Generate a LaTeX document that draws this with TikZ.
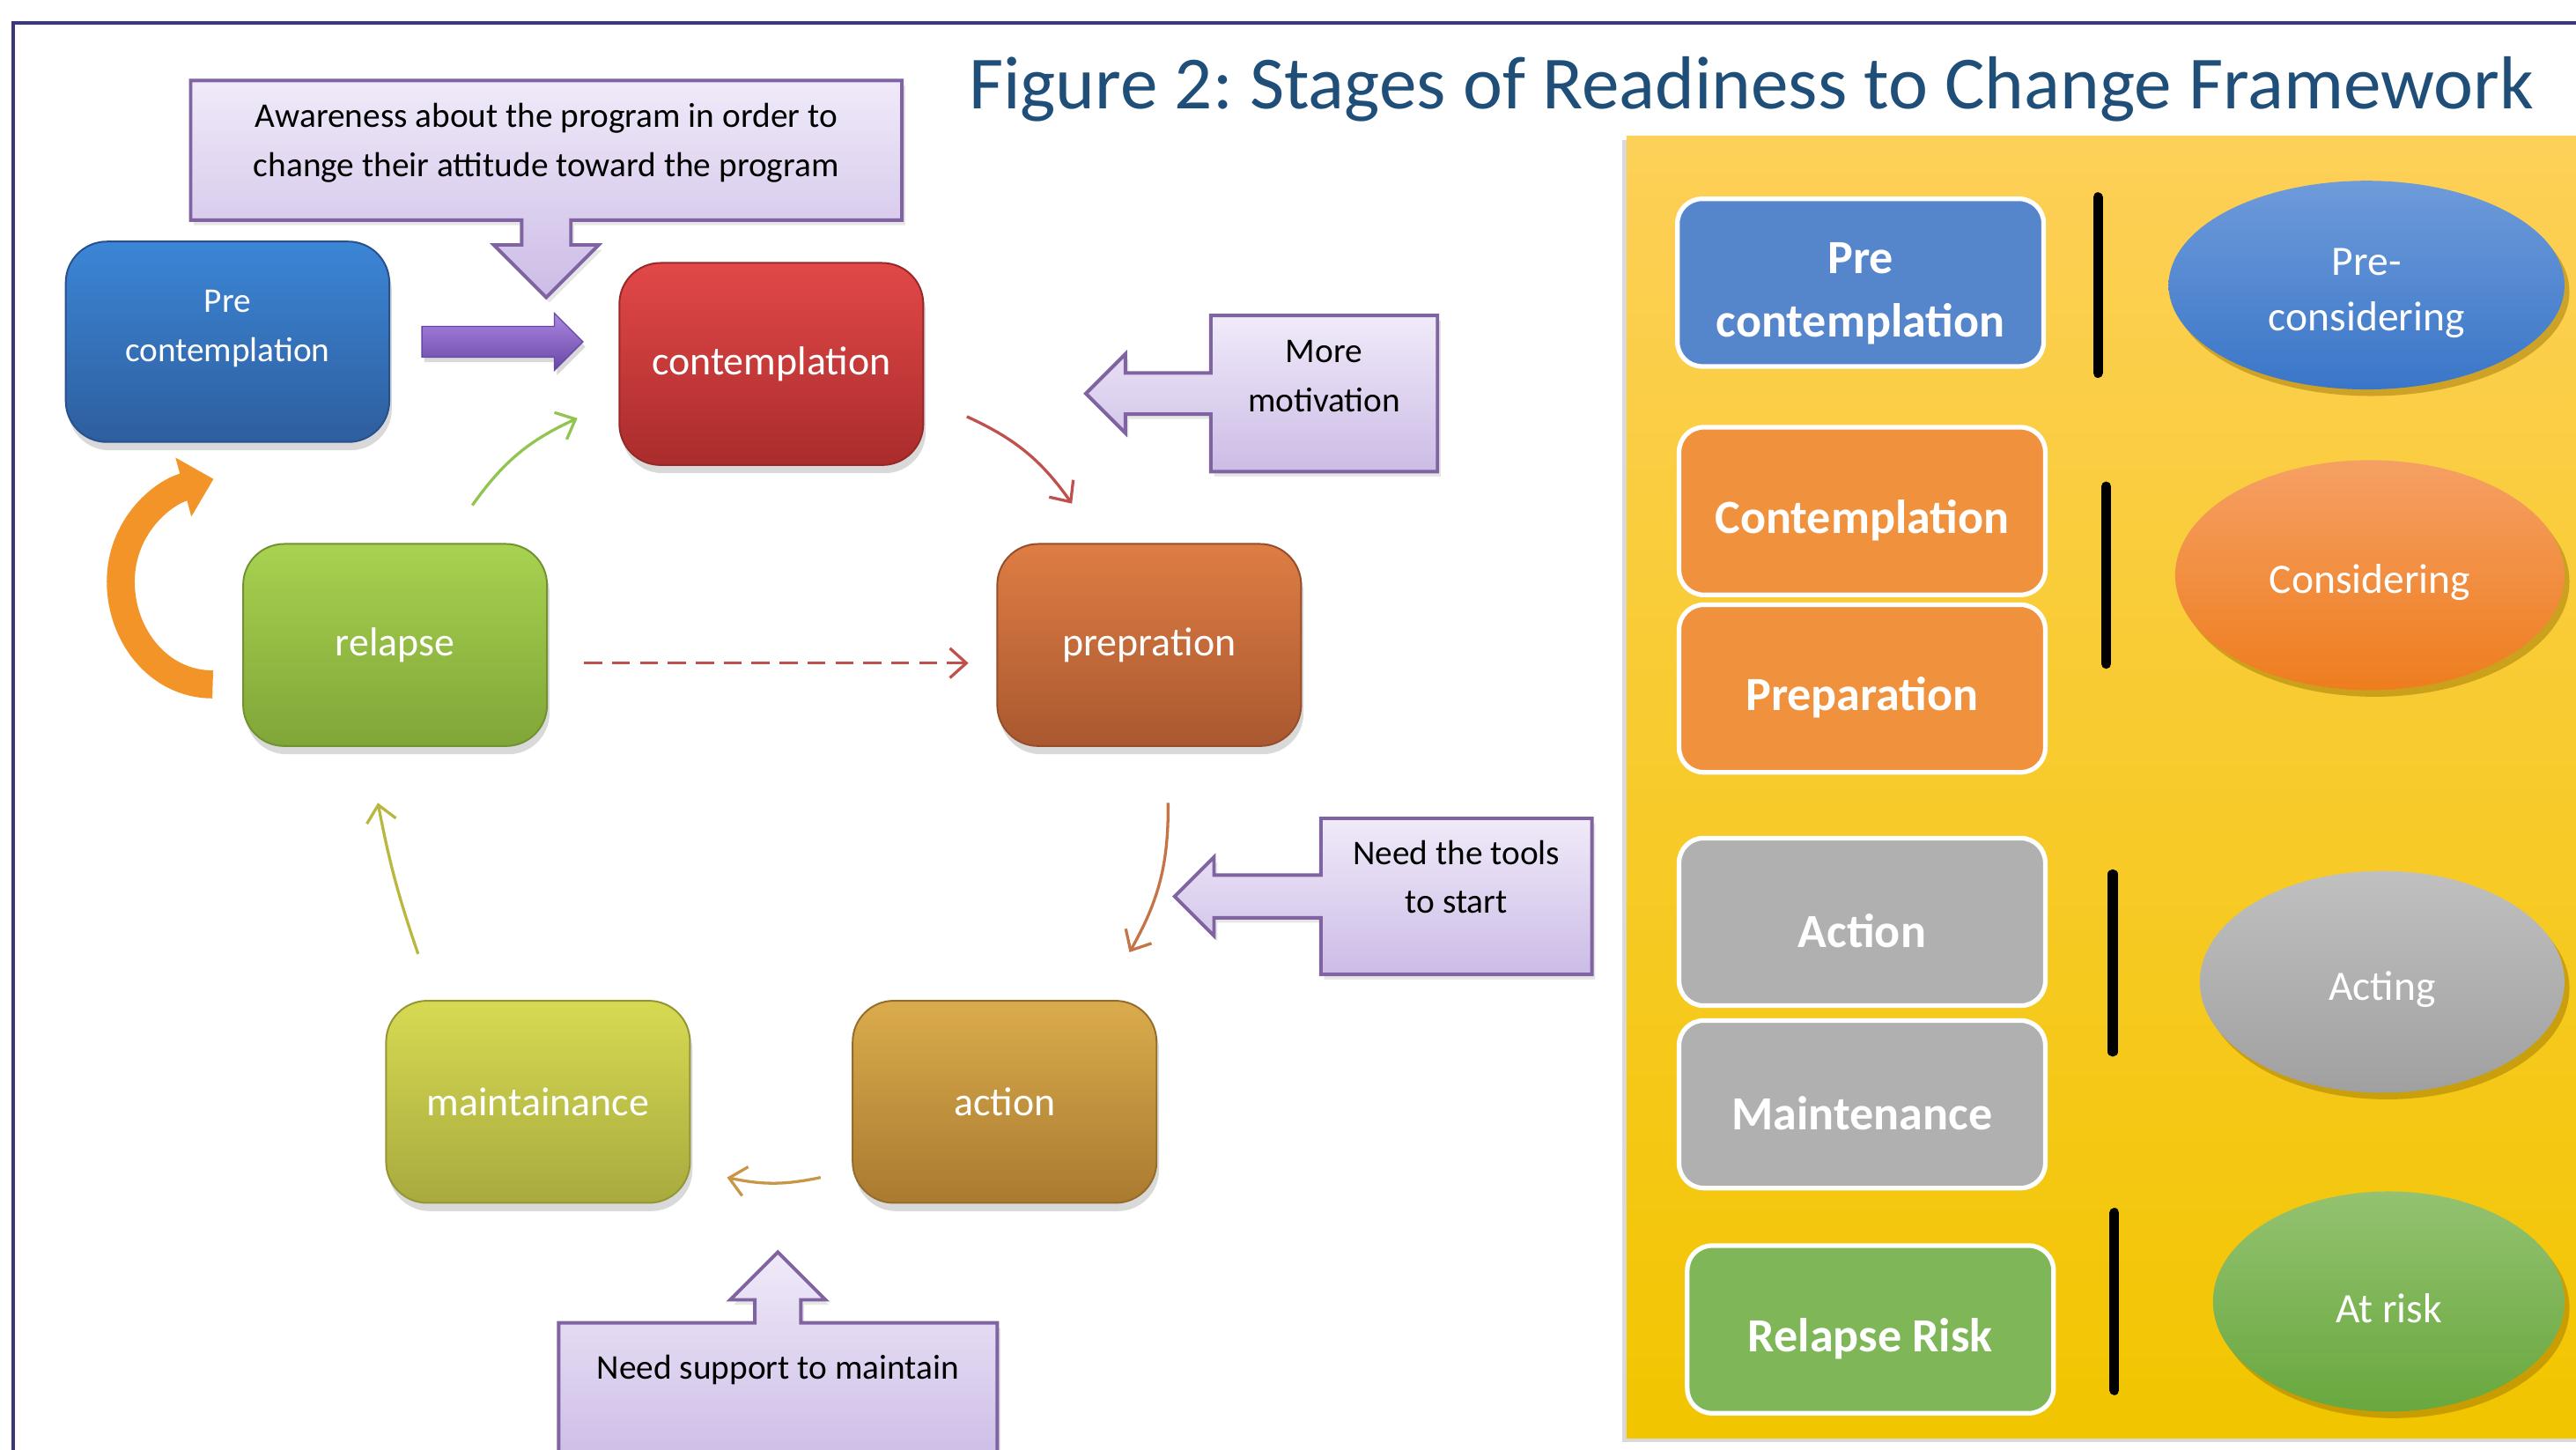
\documentclass[tikz,border=0pt]{standalone}
\usepackage{fontspec}
\setmainfont{Carlito}
\usepackage{tikz}
\usetikzlibrary{shapes.geometric,shapes.arrows,arrows.meta,shadows}
\usetikzlibrary{positioning,calc}

\begin{document}
\begin{tikzpicture}[x=0.02cm,y=0.02cm,
    stage/.style={rounded corners=0.5cm, minimum width=3.7cm, minimum height=2.46cm,
      line width=0.6pt, text=white, align=center, font=\fontsize{14}{17}\selectfont,
      drop shadow={shadow xshift=0.03cm, shadow yshift=-0.1cm, opacity=0.3}},
    hint/.style={arrow box, draw=hintline, line width=1.2pt, top color=hinttop, bottom color=hintbottom,
      align=center, font=\fontsize{12}{17}\selectfont,
      arrow box head indent=0pt, arrow box tip angle=90,
      drop shadow={shadow xshift=0.04cm, shadow yshift=-0.06cm, opacity=0.2}},
    phase/.style={rounded corners=0.3cm, draw=white, line width=1.6pt,
      minimum width=4.46cm, minimum height=2.04cm,
      text=white, align=center, font=\bfseries\fontsize{16.5}{22}\selectfont},
    mood/.style={ellipse, inner sep=0pt, text=white, align=center,
      font=\fontsize{14.5}{19}\selectfont,
      drop shadow={shadow xshift=0.06cm, shadow yshift=-0.08cm, opacity=0.45, fill=moodshadow}},
    flow/.style={line width=1pt, -{Straight Barb[length=0.2cm,width=0.36cm]}},
    sepbar/.style={line width=0.12cm, line cap=round}]

  \definecolor{framecol}{RGB}{58,56,122}
  \definecolor{titleblue}{RGB}{31,78,121}
  \definecolor{hintline}{RGB}{128,100,162}
  \definecolor{hinttop}{RGB}{240,234,249}
  \definecolor{hintbottom}{RGB}{204,188,230}
  \definecolor{pushtop}{RGB}{170,134,224}
  \definecolor{pushbottom}{RGB}{104,72,166}
  \definecolor{redline}{RGB}{192,80,77}
  \definecolor{brownline}{RGB}{196,116,70}
  \definecolor{tanline}{RGB}{200,150,70}
  \definecolor{oliveline}{RGB}{184,184,64}
  \definecolor{greenline}{RGB}{146,196,80}
  \definecolor{orangeturn}{RGB}{242,148,40}
  \definecolor{moodshadow}{RGB}{150,110,0}
  \def\lowered{\mbox{}\\[-4pt]}

  \useasboundingbox (0,0) rectangle (1568,882);

  % frame and title
  \draw[framecol, line width=1.2pt] (8,-10) -- (8,868) -- (1580,868);
  \node[anchor=base, text=titleblue, font=\fontsize{26}{30}\selectfont] (title) at (1066,816)
    {Figure 2:\ Stages of Readiness to Change Framework};

  % cycle of stages
  \node[stage, top color={rgb,255:red,60;green,134;blue,214}, bottom color={rgb,255:red,46;green,94;blue,158},
    draw={rgb,255:red,40;green,80;blue,140}, minimum width=3.94cm, minimum height=2.44cm,
    font=\fontsize{12}{17}\selectfont] (pre) at (138.5,674) {Pre\\contemplation\\[-6pt]\mbox{}};
  \node[stage, top color={rgb,255:red,226;green,72;blue,72}, bottom color={rgb,255:red,170;green,44;blue,44},
    draw={rgb,255:red,150;green,40;blue,40}] (contemp) at (469.5,660.5) {contemplation};
  \node[stage, top color={rgb,255:red,222;green,125;blue,68}, bottom color={rgb,255:red,170;green,88;blue,48},
    draw={rgb,255:red,150;green,78;blue,42}] (prep) at (699.5,489.5) {prepration};
  \node[stage, top color={rgb,255:red,218;green,172;blue,76}, bottom color={rgb,255:red,170;green,122;blue,48},
    draw={rgb,255:red,150;green,108;blue,42}] (action) at (611.5,211.5) {action};
  \node[stage, top color={rgb,255:red,214;green,218;blue,82}, bottom color={rgb,255:red,168;green,170;blue,62},
    draw={rgb,255:red,148;green,150;blue,54}] (maint) at (327.5,211.5) {maintainance};
  \node[stage, top color={rgb,255:red,168;green,210;blue,80}, bottom color={rgb,255:red,128;green,166;blue,56},
    draw={rgb,255:red,112;green,146;blue,48}] (relapse) at (240.5,489.5) {relapse};

  % block arrow
  \node[single arrow, top color=pushtop, bottom color=pushbottom, draw=pushbottom, line width=0.4pt,
    minimum height=1.96cm, single arrow head extend=0.16cm, inner xsep=0pt, inner ysep=0.18cm,
    anchor=tail, drop shadow={shadow xshift=0.03cm, shadow yshift=-0.06cm, opacity=0.3}]
    (push) at ([xshift=0.38cm]pre.east) {};

  % callouts
  \node[hint, minimum width=8.66cm, minimum height=1.7cm,
    arrow box arrows={south:0.92cm}, arrow box shaft width=0.6cm, arrow box head extend=0.34cm]
    (aware) at (332.5,790.5) {Awareness about the program in order to\\change their attitude toward the program\\[-10pt]\mbox{}};
  \node[hint, minimum width=2.76cm, minimum height=1.9cm,
    arrow box arrows={west:1.5cm}, arrow box shaft width=0.5cm, arrow box head extend=0.23cm]
    (motiv) at (806,642.5) {More\\motivation\\[-5pt]\mbox{}};
  \node[hint, minimum width=3.3cm, minimum height=1.9cm,
    arrow box arrows={west:1.76cm}, arrow box shaft width=0.52cm, arrow box head extend=0.22cm]
    (tools) at (886.5,336.5) {Need the tools\\to start\\[-3.5pt]\mbox{}};
  \node[hint, minimum width=5.34cm, text height=0.33cm, text depth=0.71cm, inner ysep=0.35cm,
    arrow box arrows={north:0.84cm}, arrow box shaft width=0.56cm, arrow box head extend=0.3cm]
    (support) at (473.5,33.5) {Need support to maintain};

  % connectors
  \draw[flow, redline] ([shift={(26,30)}]contemp.south east) to[bend left=15] ([shift={(46,24)}]prep.north west);
  \draw[flow, brownline] ([shift={(11.5,-34)}]prep.south) to[bend left=15] ([shift={(-17,29)}]action.north east);
  \draw[flow, tanline] ([shift={(-19,16)}]action.south west) to[bend left=12] ([shift={(22,16)}]maint.south east);
  \draw[flow, oliveline] ([shift={(20,28)}]maint.north west) to[bend left=4] ([shift={(-10.5,-34)}]relapse.south);
  \draw[flow, greenline] ([shift={(-46,23)}]relapse.north east) to[bend left=15] ([shift={(-25,29)}]contemp.south west);
  \draw[flow, redline, dash pattern=on 0.22cm off 0.12cm] ([shift={(22,-11)}]relapse.east) -- ([shift={(-17,-11)}]prep.west);
  \draw[orangeturn, line width=0.34cm, -{Triangle[length=0.38cm,width=0.72cm]}]
    ([shift={(-18,-24)}]relapse.west) to[out=180,in=-90] ([shift={(-74,38.5)}]relapse.west)
    to[out=90,in=-165] ([shift={(-8.5,-22)}]pre.south);

  % readiness panel
  \path[top color={rgb,255:red,253;green,208;blue,88}, bottom color={rgb,255:red,242;green,197;blue,0},
    drop shadow={shadow xshift=-0.05cm, shadow yshift=-0.05cm, opacity=0.3}] (990,7) rectangle (1620,799);

  \node[phase, fill={rgb,255:red,85;green,134;blue,204}] (rPre) at (1132.5,710) {\lowered Pre\\contemplation};
  \node[phase, fill={rgb,255:red,240;green,145;blue,62}] (rCon) at (1133.5,571) {\lowered Contemplation};
  \node[phase, fill={rgb,255:red,240;green,145;blue,62}] (rPrep) at (1133.5,463) {\lowered Preparation};
  \node[phase, fill={rgb,255:red,176;green,176;blue,176}] (rAct) at (1133.5,321) {\lowered Action};
  \node[phase, fill={rgb,255:red,176;green,176;blue,176}] (rMain) at (1133.5,210) {\lowered Maintenance};
  \node[phase, fill={rgb,255:red,126;green,182;blue,88}] (rRel) at (1138.5,73) {\lowered Relapse Risk};

  \draw[sepbar] (1277,762) -- (1277,655);
  \draw[sepbar] (1282,586) -- (1282,478);
  \draw[sepbar] (1286,350) -- (1286,242);
  \draw[sepbar] (1287,144) -- (1287,36);

  \node[mood, minimum width=4.82cm, minimum height=2.54cm,
    top color={rgb,255:red,110;green,155;blue,218}, bottom color={rgb,255:red,58;green,118;blue,200}]
    (ePre) at (1440.5,708.5) {\lowered Pre-\\considering};
  \node[mood, minimum width=4.74cm, minimum height=2.8cm,
    top color={rgb,255:red,245;green,160;blue,100}, bottom color={rgb,255:red,238;green,125;blue,30}]
    (eCon) at (1442.5,532) {\lowered Considering};
  \node[mood, minimum width=4.44cm, minimum height=2.7cm,
    top color={rgb,255:red,192;green,192;blue,192}, bottom color={rgb,255:red,160;green,160;blue,160}]
    (eAct) at (1450,284.5) {\lowered Acting};
  \node[mood, minimum width=4.28cm, minimum height=2.68cm,
    top color={rgb,255:red,148;green,194;blue,112}, bottom color={rgb,255:red,104;green,168;blue,62}]
    (eRisk) at (1454,90) {\lowered At risk};
\end{tikzpicture}
\end{document}
